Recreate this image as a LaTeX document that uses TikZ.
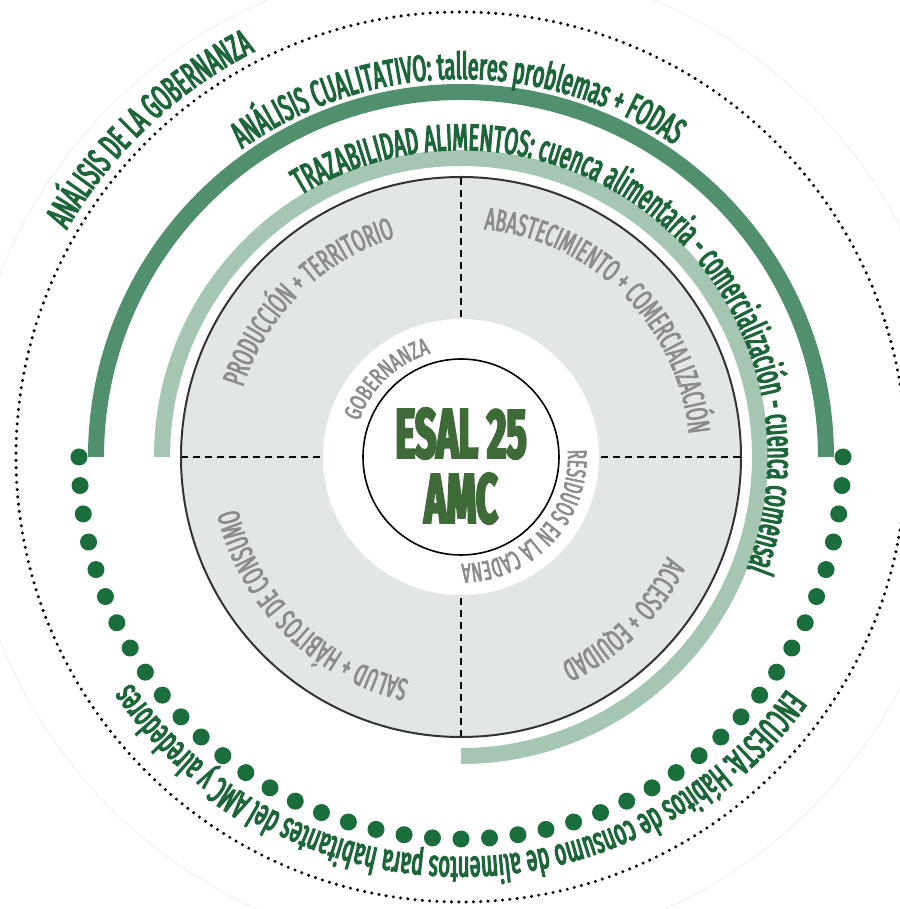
\documentclass[tikz,border=0pt]{standalone}
\usepackage{fontspec}
\newfontfamily\condfont{Fira Sans}[FakeStretch=0.54, FakeBold=3.5]
\newfontfamily\labelfont{Fira Sans}[FakeStretch=0.58, FakeBold=2.5]
\newfontfamily\widefont{Fira Sans}[FakeStretch=0.7, FakeBold=2.5]
\usetikzlibrary{decorations.text}

\definecolor{dotgreen}{RGB}{26,110,60}
\definecolor{txtgreen}{RGB}{28,102,58}
\definecolor{darkarc}{RGB}{80,144,108}
\definecolor{lightarc}{RGB}{164,198,178}
\definecolor{diskgray}{RGB}{227,231,228}
\definecolor{labelgray}{RGB}{138,141,139}
\definecolor{esalgreen}{RGB}{62,106,56}

\begin{document}
\begin{tikzpicture}[x=1pt, y=1pt,
  bigtext/.style={decorate, decoration={text along path, text align=center, text color=txtgreen,
    text={|\condfont\fontsize{37}{37}\selectfont|#1}}},
  quadtext/.style={decorate, decoration={text along path, text align=center, text color=labelgray,
    text={|\labelfont\fontsize{31}{31}\selectfont|#1}}},
  smalltext/.style={decorate, decoration={text along path, text align=center, text color=labelgray,
    text={|\labelfont\fontsize{27}{27}\selectfont|#1}}},
  band/.style={line width=16pt},
  cross/.style={line width=1.6pt, dash pattern=on 7pt off 5pt}]
\useasboundingbox (-461,-452) rectangle (438,457);

% outer rings
\draw[black!6, line width=1pt] (0,0) circle[radius=496];
\draw[line width=3.4pt, dash pattern=on 0pt off 7.3pt, line cap=round] (0,0) circle[radius=445];
\draw[band, darkarc] (-365,0) arc[start angle=180, end angle=0, radius=365];
\draw[band, lightarc] (-299,0) arc[start angle=180, end angle=-90, radius=299];
\foreach \i in {0,...,42}
  \fill[dotgreen] ({180+\i*180/42}:382) circle[radius=8.5];

% disk with quadrants
\fill[diskgray] (0,0) circle[radius=280];
\draw[cross] (-280,0) -- (280,0);
\draw[cross] (0,-280) -- (0,280);
\fill[white] (0,0) circle[radius=138];
\draw[line width=2pt, black!80] (0,0) circle[radius=280];
\node[circle, draw, line width=1.6pt, minimum size=196pt, inner sep=0pt] (esal) {};
\node[align=center, text=esalgreen, font=\condfont\bfseries\fontsize{70}{65}\selectfont] (esaltxt) at (0,-9) {ESAL 25\\AMC};

% texts along the rings
\path[bigtext={ANÁLISIS DE LA GOBERNANZA}] (173.5:455) arc[start angle=173.5, end angle=93.5, radius=455];
\path[bigtext={ANÁLISIS CUALITATIVO: talleres problemas + FODAS}] (160:378) arc[start angle=160, end angle=21, radius=378];
\path[bigtext={TRAZABILIDAD ALIMENTOS: cuenca alimentaria - comercialización - cuenca comensal}] (150:307) arc[start angle=150, end angle=-50, radius=307];
\path[bigtext={ENCUESTA: Hábitos de consumo de alimentos para habitantes del AMC y alrededores}] (-10:400) arc[start angle=-10, end angle=-171, radius=400];

\path[quadtext={PRODUCCIÓN + TERRITORIO}] (178:229) arc[start angle=178, end angle=91, radius=229];
\path[quadtext={ABASTECIMIENTO + COMERCIALIZACIÓN}] (89:229) arc[start angle=89, end angle=1, radius=229];
\path[quadtext={SALUD + HÁBITOS DE CONSUMO}] (-91:229) arc[start angle=-91, end angle=-179, radius=229];
\path[quadtext={ACCESO + EQUIDAD}] (-1:229) arc[start angle=-1, end angle=-89, radius=229];

\path[decorate, decoration={text along path, text align=center, text color=labelgray,
  text={|\widefont\fontsize{24}{24}\selectfont|GOBERNANZA}}] (178:108) arc[start angle=178, end angle=89, radius=108];
\path[smalltext={RESIDUOS EN LA CADENA}] (45:107) arc[start angle=45, end angle=-131, radius=107];
\end{tikzpicture}
\end{document}
